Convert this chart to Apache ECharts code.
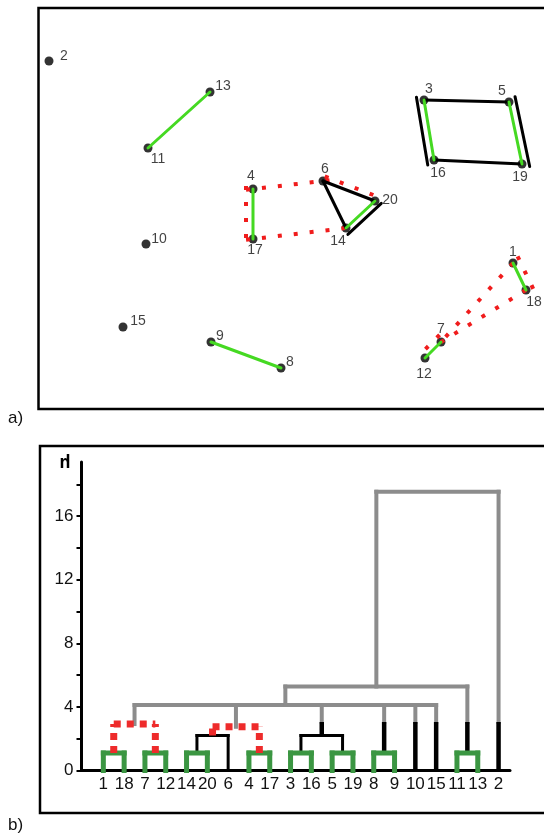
<!DOCTYPE html>
<html>
<head>
<meta charset="utf-8">
<script src="https://cdn.jsdelivr.net/npm/echarts@6/dist/echarts.min.js"></script>
<style>
  html, body { margin: 0; padding: 0; background: #fff; }
  #main { width: 544px; height: 837px; }
</style>
</head>
<body>
<div id="main"></div>
<script>
  // ---- panel a: the 20 points (x from frame left, y from frame bottom)
  const pointIds = ['1','2','3','4','5','6','7','8','9','10','11','12','13','14','15','16','17','18','19','20'];
  const pointX = [476, 12, 387, 216, 472, 286, 404, 244, 174, 109, 111, 388, 173, 309, 86, 397, 216, 489, 485, 338];
  const pointY = [146, 348, 309, 220, 307, 228, 67, 41, 67, 165, 261, 51, 317, 181, 82, 249, 170, 119, 245, 208];

  // links between points, by kind
  const greenLinks = [[11,13],[9,8],[4,17],[14,20],[3,16],[5,19],[1,18],[7,12]];
  const blackLinks = [[6,20],[6,14],[3,5],[16,19],[3,16],[5,19],[14,20]];
  const redLinks = [[4,6],[6,20],[17,14],[4,17],[1,7],[18,7],[1,18],[7,12]];

  // ---- panel b: dendrogram
  const leafOrder = ['1','18','7','12','14','20','6','4','17','3','16','5','19','8','9','10','15','11','13','2'];
  const mergeChildren = [
    ['1','18'], ['7','12'], ['14','20'], ['4','17'], ['3','16'], ['5','19'], ['8','9'], ['11','13'],
    ['m3','6'], ['m5','m6'], ['m1','m2'], ['m9','m4'],
    ['m11','m12','m10','m7','10','15'], ['m13','m8'], ['m14','2']
  ];
  const mergeHeight = [1.1, 1.1, 1.1, 1.1, 1.1, 1.1, 1.1, 1.1, 2.2, 2.2, 2.92, 2.75, 4.12, 5.28, 17.53];
  const mergeKind = ['green','green','green','green','green','green','green','green','black','black','red','red','gray','gray','gray'];
  const cutHeight = 3.05;
  const yTickValues = [0, 2, 4, 6, 8, 10, 12, 14, 16, 18];
  const yLabelValues = [0, 4, 8, 12, 16];

  // ---- styles
  const font = 'Liberation Sans, Arial, sans-serif';
  const labelOffset = {
    1:[0,-11], 2:[15,-5], 3:[5,-11], 4:[-2,-13], 5:[-7,-11], 6:[2,-12], 7:[0,-13], 8:[9,-6], 9:[9,-6], 10:[13,-5],
    11:[10,11], 12:[-1,16], 13:[13,-6], 14:[-8,13], 15:[15,-6], 16:[4,13], 17:[2,11], 18:[8,12], 19:[-2,13], 20:[15,-1]
  };
  // sideways shift (px) and end extension for doubled links
  const linkShift = {'black:3-16': 7, 'black:5-19': -7, 'black:14-20': 6,
                     'red:6-20': -5, 'red:4-17': 7, 'red:1-18': -7, 'red:7-12': 6};
  const linkExtend = {'black:3-16': 4, 'black:5-19': 4, 'black:14-20': 3,
                      'red:4-6': 7, 'red:17-14': 7, 'red:4-17': 3, 'red:1-18': 4, 'red:7-12': 4};
  const linkStyle = {
    green: {stroke: '#45d922', lineWidth: 3, lineCap: 'round'},
    black: {stroke: '#000', lineWidth: 3, lineCap: 'round'},
    red:   {stroke: '#f01c1c', lineWidth: 4, lineDash: [4, 12], lineCap: 'butt'}
  };
  const treeStyle = {
    green: {stroke: '#3b9642', lineWidth: 5, lineCap: 'square'},
    black: {stroke: '#000', lineWidth: 3, lineCap: 'square'},
    stem:  {stroke: '#000', lineWidth: 4.5, lineCap: 'butt'},
    gray:  {stroke: '#8c8c8c', lineWidth: 4, lineCap: 'square'},
    red:   {stroke: '#ee2b2b', lineWidth: 7, lineDash: [7, 6], lineCap: 'butt'}
  };

  // build link list
  const links = [];
  [['green', greenLinks], ['black', blackLinks], ['red', redLinks]].forEach(([kind, arr]) => {
    arr.forEach(([a, b]) => {
      const key = kind + ':' + a + '-' + b;
      links.push({a, b, kind, shift: linkShift[key] || 0, ext: linkExtend[key] || 0});
    });
  });
  // draw red first, then black, green on top
  const kindOrder = {red: 0, black: 1, green: 2};
  links.sort((p, q) => kindOrder[p.kind] - kindOrder[q.kind]);

  // build dendrogram segments
  const kindCodes = ['green', 'black', 'stem', 'gray', 'red'];
  const nodeX = {}, nodeH = {}, nodeKind = {};
  leafOrder.forEach((n, i) => { nodeX[n] = i; nodeH[n] = 0; nodeKind[n] = 'leaf'; });
  const segments = [];
  mergeChildren.forEach((ch, k) => {
    const id = 'm' + (k + 1), h = mergeHeight[k], kind = mergeKind[k];
    const xs = ch.map(c => nodeX[c]);
    const x0 = Math.min(...xs), x1 = Math.max(...xs);
    ch.forEach(c => {
      const x = nodeX[c], h0 = nodeH[c];
      if (kind !== 'gray') segments.push([x, h0, x, h, kind]);
      else if (nodeKind[c] !== 'red' && h0 < cutHeight) {
        segments.push([x, h0, x, cutHeight, 'stem']);
        segments.push([x, cutHeight, x, h, 'gray']);
      } else segments.push([x, h0, x, h, 'gray']);
    });
    segments.push([x0, h, x1, h, kind]);
    nodeX[id] = (x0 + x1) / 2; nodeH[id] = h; nodeKind[id] = kind;
  });
  const segOrder = {gray: 0, stem: 1, black: 2, green: 3, red: 4};
  segments.sort((p, q) => segOrder[p[4]] - segOrder[q[4]]);

  let myChart = echarts.init(document.getElementById('main'));

  myChart.setOption({
    backgroundColor: '#fff',
    animation: false,
    textStyle: {fontFamily: font},
    grid: [
      {left: 37, top: 8, width: 530, height: 401, outerBoundsMode: 'none', containLabel: false},
      {left: 81.5, top: 462, width: 428.5, height: 308.5, outerBoundsMode: 'none', containLabel: false}
    ],
    xAxis: [
      {gridIndex: 0, type: 'value', min: 0, max: 530, show: false},
      {
        gridIndex: 1, type: 'value', min: -1.05, max: 19.55,
        axisLine: {show: true, onZero: false, lineStyle: {color: '#000', width: 3}},
        axisTick: {show: false},
        splitLine: {show: false},
        axisLabel: {
          customValues: leafOrder.map((_, i) => i),
          formatter: v => leafOrder[Math.round(v)],
          fontSize: 17, color: '#111', margin: 5, fontFamily: font
        }
      }
    ],
    yAxis: [
      {gridIndex: 0, type: 'value', min: 0, max: 401, show: false},
      {
        gridIndex: 1, type: 'value', min: 0, max: 19.4,
        axisLine: {show: true, onZero: false, lineStyle: {color: '#000', width: 3}},
        axisTick: {show: true, customValues: yTickValues, length: 5, lineStyle: {color: '#000', width: 2}},
        splitLine: {show: false},
        axisLabel: {customValues: yLabelValues, fontSize: 17, color: '#111', margin: 8, fontFamily: font}
      }
    ],
    graphic: [
      {type: 'rect', z: 0, shape: {x: 38.5, y: 8, width: 600, height: 401}, style: {fill: 'none', stroke: '#000', lineWidth: 2.5}},
      {type: 'rect', z: 0, shape: {x: 40, y: 446, width: 600, height: 367}, style: {fill: 'none', stroke: '#000', lineWidth: 2.5}},
      {type: 'text', left: 8, top: 410, style: {text: 'a)', font: '17px ' + font, fill: '#111'}},
      {type: 'text', left: 8, top: 817, style: {text: 'b)', font: '17px ' + font, fill: '#111'}},
      {type: 'text', x: 65, y: 463, rotation: Math.PI,
       style: {text: 'μ', font: 'bold 18px ' + font, fill: '#000', align: 'center', verticalAlign: 'middle'}}
    ],
    series: [
      {
        type: 'scatter', xAxisIndex: 0, yAxisIndex: 0, z: 2,
        symbolSize: 9,
        itemStyle: {color: '#000'},
        label: {show: true, position: 'inside', formatter: '{b}', fontSize: 14, color: '#111', fontFamily: font},
        data: pointIds.map((id, i) => ({
          name: id, value: [pointX[i], pointY[i]],
          label: {offset: labelOffset[id]}
        }))
      },
      {
        type: 'custom', xAxisIndex: 0, yAxisIndex: 0, z: 3, clip: false,
        data: links.map((_, i) => [i, 0]),
        renderItem: function (params, api) {
          const l = links[params.dataIndex];
          const p = api.coord([pointX[l.a - 1], pointY[l.a - 1]]);
          const q = api.coord([pointX[l.b - 1], pointY[l.b - 1]]);
          const dx = q[0] - p[0], dy = q[1] - p[1];
          const len = Math.sqrt(dx * dx + dy * dy);
          const ux = dx / len, uy = dy / len;
          const nx = -uy * l.shift, ny = ux * l.shift;
          return {
            type: 'line',
            shape: {
              x1: p[0] + nx - ux * l.ext, y1: p[1] + ny - uy * l.ext,
              x2: q[0] + nx + ux * l.ext, y2: q[1] + ny + uy * l.ext
            },
            style: Object.assign({fill: null}, linkStyle[l.kind])
          };
        }
      },
      {
        type: 'custom', xAxisIndex: 1, yAxisIndex: 1, z: 3, clip: false,
        data: segments.map(s => [s[0], s[1], s[2], s[3], kindCodes.indexOf(s[4])]),
        renderItem: function (params, api) {
          const p = api.coord([api.value(0), api.value(1)]);
          const q = api.coord([api.value(2), api.value(3)]);
          const kind = kindCodes[api.value(4)];
          return {
            type: 'line',
            shape: {x1: p[0], y1: p[1], x2: q[0], y2: q[1]},
            style: Object.assign({fill: null}, treeStyle[kind])
          };
        }
      }
    ]
  });
</script>
</body>
</html>
